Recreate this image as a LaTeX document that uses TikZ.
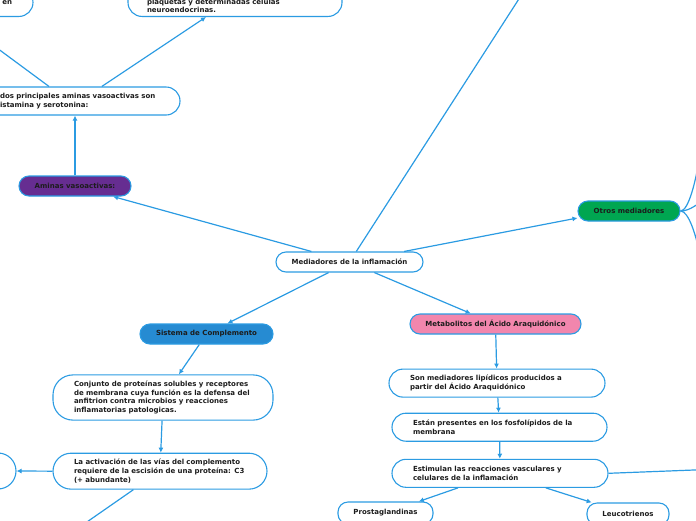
\documentclass[tikz,border=0pt]{standalone}
\usepackage{fontspec}
\setmainfont{DejaVu Sans}
\usetikzlibrary{arrows.meta, positioning}

\definecolor{mapblue}{RGB}{43,155,226}
\definecolor{textdark}{RGB}{28,28,28}
\definecolor{aminpurple}{RGB}{102,45,145}
\definecolor{otrosgreen}{RGB}{0,166,81}
\definecolor{sistblue}{RGB}{38,139,210}
\definecolor{metapink}{RGB}{242,134,173}

\begin{document}
\begin{tikzpicture}[
    x=1pt, y=-1pt,
    font=\fontsize{7}{8.7}\selectfont\bfseries,
    pill/.style={
        draw=mapblue,
        line width=1.1pt,
        rounded corners=10pt,
        minimum height=20pt,
        inner sep=2pt,
        text=textdark
    },
    note/.style={
        draw=mapblue,
        line width=1.1pt,
        rounded corners=14pt,
        align=left,
        inner xsep=21pt,
        inner ysep=6pt,
        minimum height=28pt,
        text=textdark
    },
    arrow/.style={
        -{Latex[length=5pt,width=5pt]},
        draw=mapblue,
        line width=1.2pt
    },
    link/.style={
        draw=mapblue,
        line width=1.2pt
    }
]

\useasboundingbox (0,0) rectangle (696,520);
\clip (0,0) rectangle (696,520);

% centre and first level
\node[pill, minimum width=147pt] (med) at (349.5,262) {Mediadores de la inflamación};

\node[pill, fill=aminpurple, minimum width=112pt] (amin) at (75,186) {Aminas vasoactivas:};
\node[pill, fill=otrosgreen, minimum width=102pt] (otros) at (629,211) {Otros mediadores};
\node[pill, fill=sistblue, minimum width=133pt] (sist) at (206.5,334) {Sistema de Complemento};
\node[pill, fill=metapink, minimum width=171pt] (metab) at (495.5,324) {Metabolitos del Ácido Araquidónico};

% aminas branch
\node[note, inner xsep=20pt, text width=160pt] (aminnote) at (80,101)
    {dos principales aminas vasoactivas son\\istamina y serotonina:};
\node[note, anchor=south, inner xsep=19pt, inner ysep=3.5pt, minimum height=0pt, text width=176pt] (plaq) at (235,17)
    {\rule{0pt}{22pt}plaquetas y determinadas células\\neuroendocrinas.};
\node[note, anchor=south, align=right, minimum width=156pt, text width=114pt, inner ysep=12pt] (topleft) at (-45,17) {en};

% complemento branch
\node[note, rounded corners=20pt, text width=178pt, xshift=1pt] (conj) at (162,397.5)
    {Conjunto de proteínas solubles y receptores\\de membrana cuya función es la defensa del\\anfitrion contra microbios y reacciones\\inflamatorias patologicas.};
\node[note, rounded corners=18pt, text width=172pt, below=32pt of conj, xshift=-3pt] (activ)
    {La activación de las vías del complemento\\requiere de la escisión de una proteína: C3\\(+ abundante)};
\node[note, rounded corners=18pt, minimum width=80pt, minimum height=36pt] (leftnote) at (-24,471) {};

% araquidonico branch
\node[note, text width=174pt, below=34pt of metab, xshift=1.5pt] (son)
    {Son mediadores lipídicos producidos a\\partir del Ácido Araquidónico};
\node[note, text width=173pt, below=15pt of son, xshift=2.5pt] (estan)
    {Están presentes en los fosfolípidos de la\\membrana};
\node[note, text width=174pt, below=17pt of estan, xshift=0.5pt] (estim)
    {Estimulan las reacciones vasculares y\\celulares de la inflamación};

\node[pill, minimum width=95pt, minimum height=22pt] (prosta) at (385.5,513) {Prostaglandinas};
\node[pill, minimum width=82pt, minimum height=22pt] (leuco) at (628,514) {Leucotrienos};

% free ends beyond the frame
\coordinate (upend) at (544,-40);
\coordinate (downend) at (61,540);
\coordinate (rightend) at (720,469);
\coordinate (otrostop) at (699,160);
\coordinate (otrosmid) at (706,199);
\coordinate (otrosbot) at (700,255);

\draw[arrow] (med) -- (amin);
\draw[arrow] (med) -- (upend);
\draw[arrow] (med) -- ([yshift=-7pt]otros.west);
\draw[arrow] (med) -- (sist);
\draw[arrow] (med) -- (metab);

\draw[arrow] (amin.north) -- (amin.north |- aminnote.south);
\draw[arrow] (aminnote) -- ([xshift=-29pt]plaq.south);
\draw[arrow] ([xshift=-31pt]aminnote.north) -- (topleft.south);

\draw[link] (otros.east) .. controls +(8,0) and +(-3,20) .. (otrostop);
\draw[link] (otros.east) .. controls +(10,0) and +(-8,4) .. (otrosmid);
\draw[link] (otros.east) .. controls +(8,0) and +(-4,-20) .. (otrosbot);

\draw[arrow] (sist) -- (conj);
\draw[arrow] (conj) -- (activ);
\draw[arrow] (activ.west) -- (leftnote.east);
\draw[arrow] (activ) -- (downend);

\draw[arrow] (metab) -- (son);
\draw[arrow] (son) -- (estan);
\draw[arrow] (estan) -- (estim);
\draw[arrow] (estim.east) -- (rightend);
\draw[arrow] (estim) -- (prosta);
\draw[arrow] (estim) -- (leuco);

\end{tikzpicture}
\end{document}
